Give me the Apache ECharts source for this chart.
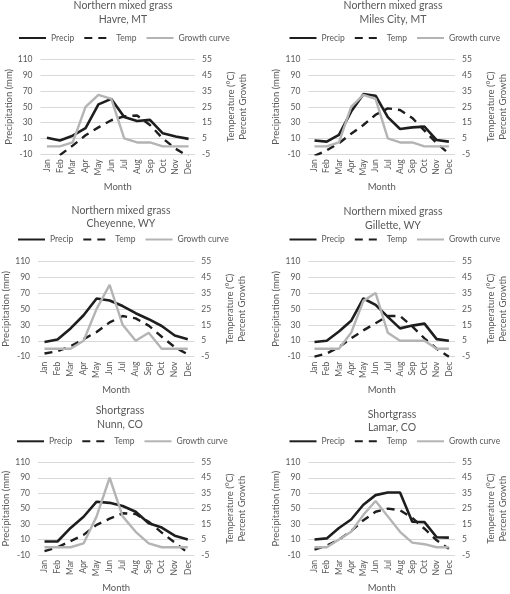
<!DOCTYPE html>
<html><head><meta charset="utf-8">
<script src="https://cdn.jsdelivr.net/npm/echarts@6/dist/echarts.min.js"></script>
<style>html,body{margin:0;padding:0;background:#fff}#c{width:510px;height:594px}</style>
</head><body><div id="c"></div>
<script>
// ---- data ----
const months = ['Jan','Feb','Mar','Apr','May','Jun','Jul','Aug','Sep','Oct','Nov','Dec'];
const seriesNames = ['Precip','Temp','Growth curve'];
const leftTicks = [-10, 10, 30, 50, 70, 90, 110];
const rightTicks = [-5, 5, 15, 25, 35, 45, 55];

const havreTitle = 'Northern mixed grass\nHavre, MT';
const havrePrecip = [11, 7.5, 13.5, 23, 53, 60, 37, 32, 33.5, 16.5, 12.5, 9.5];
const havreTemp   = [-9, -5.5, 0.5, 7, 12, 16.5, 19, 19.5, 13.5, 5, -1.5, -6.5];
const havreGrowth = [0, 0, 2.5, 25, 32.5, 30, 5, 2.5, 2.5, 0, 0, 0];

const milesTitle = 'Northern mixed grass\nMiles City, MT';
const milesPrecip = [7.5, 6, 14.5, 44, 66, 64, 37, 22, 24, 25, 8, 6];
const milesTemp   = [-6, -2.5, 2, 8, 13.5, 20, 24, 23, 18, 10, 2, -4.5];
const milesGrowth = [0, 0, 2.5, 25, 32.5, 30, 5, 2.5, 2.5, 0, 0, 0];

const cheyenneTitle = 'Northern mixed grass\nCheyenne, WY';
const cheyennePrecip = [8.5, 11.5, 25.5, 42, 63, 60.5, 53.5, 44.5, 37, 28.5, 16.5, 12];
const cheyenneTemp   = [-3, -1.5, 1.5, 6, 10.5, 16.5, 20.5, 19, 14.5, 7.5, 1, -3.5];
const cheyenneGrowth = [0, 0, 0, 5, 25, 40, 15, 5, 10, 0, 0, 0];

const gilletteTitle = 'Northern mixed grass\nGillette, WY';
const gillettePrecip = [8.5, 10, 21.5, 35, 63, 55, 40, 25.5, 29, 31.5, 12, 10];
const gilletteTemp   = [-5, -3, 1, 6.5, 11.5, 16, 20.5, 20.5, 14, 6.5, 0, -5];
const gilletteGrowth = [0, 0, 0, 10, 30, 35, 10, 5, 5, 5, 0, 0];

const nunnTitle = 'Shortgrass\nNunn, CO';
const nunnPrecip = [7.5, 7.5, 25, 39.5, 59, 57.5, 53.5, 46, 31, 25.5, 15, 10];
const nunnTemp   = [-2.5, 0, 4, 8, 14.5, 18.5, 22, 21.5, 16.5, 9.5, 3, -3.5];
const nunnGrowth = [0, 0, 0, 2.5, 20, 45, 20, 10, 2.5, 0, 0, 0];

const lamarTitle = 'Shortgrass\nLamar, CO';
const lamarPrecip = [10, 11.5, 25, 36, 55, 67.5, 71, 71, 33, 32.5, 13, 12.5];
const lamarTemp   = [-1.5, 1, 5, 10.5, 17.5, 23, 25, 24, 19, 12, 4.5, -1];
const lamarGrowth = [0, 0, 5, 10, 21, 30, 20, 10, 3, 2, 0, 0];

const panelData = [
  [havreTitle, havrePrecip, havreTemp, havreGrowth],
  [milesTitle, milesPrecip, milesTemp, milesGrowth],
  [cheyenneTitle, cheyennePrecip, cheyenneTemp, cheyenneGrowth],
  [gilletteTitle, gillettePrecip, gilletteTemp, gilletteGrowth],
  [nunnTitle, nunnPrecip, nunnTemp, nunnGrowth],
  [lamarTitle, lamarPrecip, lamarTemp, lamarGrowth]
];

// ---- layout / style ----
const FONT = 'Lato';
const TXT = '#595959';
const layouts = [
  {left: 40.5, top: 59.3, width: 154.5, height: 95,   tx: 123, tt: -1,  lx: 18,    lt: 33.5},
  {left: 308.4, top: 59.3, width: 158.2, height: 95,  tx: 393, tt: -1,  lx: 288.5, lt: 33.5},
  {left: 36.1, top: 261,  width: 158.2, height: 95.7, tx: 121, tt: 203.5, lx: 17,  lt: 235},
  {left: 308.4, top: 261, width: 158.2, height: 95.7, tx: 393, tt: 205, lx: 288.5, lt: 235},
  {left: 36.8, top: 462.3, width: 157.5, height: 95.4, tx: 120, tt: 404, lx: 16,   lt: 436.8},
  {left: 308.4, top: 462.3, width: 158.2, height: 95.4, tx: 392, tt: 407.5, lx: 288.5, lt: 436.8}
];

const option = {
  animation: false,
  backgroundColor: '#fff',
  title: [], legend: [], grid: [], xAxis: [], yAxis: [], series: []
};

panelData.forEach((p, i) => {
  const L = layouts[i];
  option.title.push({
    text: p[0], left: L.tx, top: L.tt, textAlign: 'center', padding: 0,
    textStyle: {fontFamily: FONT, fontSize: 10.5, fontWeight: 'normal', color: TXT, lineHeight: 13.5}
  });
  option.legend.push({
    data: seriesNames, left: L.lx, top: L.lt, padding: 0,
    itemWidth: 27, itemHeight: 10, itemGap: 9,
    itemStyle: {opacity: 0},
    textStyle: {fontFamily: FONT, fontSize: 8.5, color: TXT}
  });
  option.grid.push({left: L.left, top: L.top, width: L.width, height: L.height, containLabel: false});
  option.xAxis.push({
    type: 'category', gridIndex: i, data: months, boundaryGap: true,
    name: 'Month', nameLocation: 'middle', nameGap: 28,
    nameTextStyle: {fontFamily: FONT, fontSize: 9.5, color: TXT},
    axisLine: {show: false}, axisTick: {show: false},
    axisLabel: {rotate: 90, interval: 0, fontFamily: FONT, fontSize: 8.5, color: TXT, margin: 5}
  });
  option.yAxis.push({
    type: 'value', gridIndex: i, position: 'left',
    min: leftTicks[0], max: leftTicks[leftTicks.length - 1], interval: leftTicks[1] - leftTicks[0],
    name: 'Precipitation (mm)', nameLocation: 'middle', nameGap: 27,
    nameTextStyle: {fontFamily: FONT, fontSize: 9.5, color: TXT},
    axisLine: {show: false}, axisTick: {show: false},
    axisLabel: {fontFamily: FONT, fontSize: 8.5, color: TXT, margin: 8},
    splitLine: {show: true, lineStyle: {color: '#d9d9d9', width: 1}}
  });
  option.yAxis.push({
    type: 'value', gridIndex: i, position: 'right',
    min: rightTicks[0], max: rightTicks[rightTicks.length - 1], interval: rightTicks[1] - rightTicks[0],
    name: 'Temperature (°C)\nPercent Growth', nameLocation: 'middle', nameGap: 30, nameRotate: 90,
    nameTextStyle: {fontFamily: FONT, fontSize: 9.5, color: TXT, lineHeight: 12},
    axisLine: {show: false}, axisTick: {show: false},
    axisLabel: {fontFamily: FONT, fontSize: 8.5, color: TXT, margin: 7},
    splitLine: {show: false}
  });
  option.series.push({
    name: 'Precip', type: 'line', xAxisIndex: i, yAxisIndex: 2 * i, data: p[1],
    symbol: 'none', clip: true,
    lineStyle: {color: '#1e1e1e', width: 2.6}, itemStyle: {color: '#1e1e1e'}
  });
  option.series.push({
    name: 'Temp', type: 'line', xAxisIndex: i, yAxisIndex: 2 * i + 1, data: p[2],
    symbol: 'none', clip: true,
    lineStyle: {color: '#1e1e1e', width: 2.4, type: [8, 6]}, itemStyle: {color: '#1e1e1e'}
  });
  option.series.push({
    name: 'Growth curve', type: 'line', xAxisIndex: i, yAxisIndex: 2 * i + 1, data: p[3],
    symbol: 'none', clip: true,
    lineStyle: {color: '#b4b4b4', width: 2.4}, itemStyle: {color: '#b4b4b4'}
  });
});

const chart = echarts.init(document.getElementById('c'), null, {renderer: 'canvas'});
chart.setOption(option);
</script>
</body></html>
